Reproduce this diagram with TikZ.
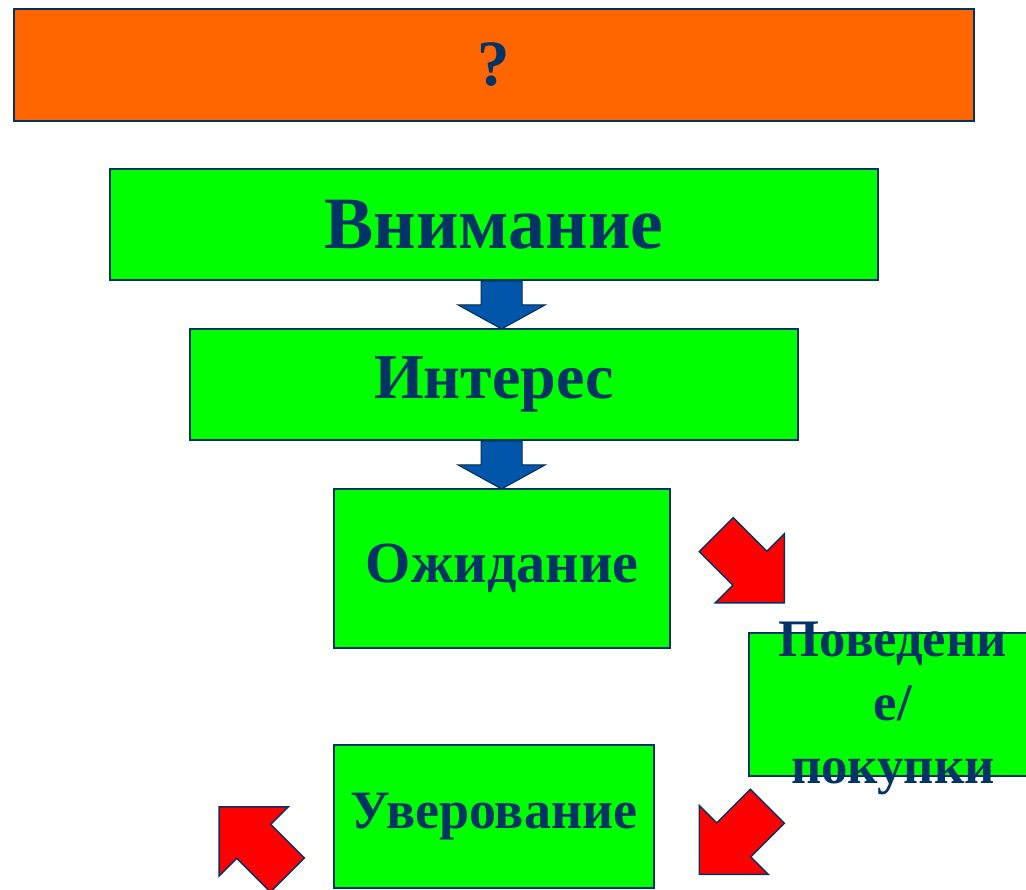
\documentclass[tikz,border=0pt]{standalone}
\usepackage{fontspec}
\setmainfont{Liberation Serif}
\usepackage{xcolor}
\usetikzlibrary{positioning}

\definecolor{navy}{RGB}{0,51,102}
\definecolor{orng}{RGB}{255,102,0}
\definecolor{lgreen}{RGB}{0,255,0}
\definecolor{arrblue}{RGB}{0,86,170}

\tikzset{
  downarrow/.pic={
    \draw[draw=navy!80!black, line width=0.7pt, fill=arrblue]
      (-0.5125,0) -- (0.5125,0) -- (0.5125,-0.6) -- (1.0875,-0.6) -- (0,-1.2)
      -- (-1.0875,-0.6) -- (-0.5125,-0.6) -- cycle;
  },
  redarrow/.pic={
    \draw[draw=navy, line width=1pt, fill=red]
      (0,0) -- (-1.22,1.22) -- (-1.22,0.6) -- (-2.41,0.6) -- (-2.41,-0.6)
      -- (-1.22,-0.6) -- (-1.22,-1.22) -- cycle;
  }
}

\begin{document}
\begin{tikzpicture}[
    blk/.style={draw=navy, line width=1.4pt, fill=lgreen, inner sep=0pt,
                align=center, text=navy},
    top/.style={blk, fill=orng, line width=1.8pt}
  ]
  \useasboundingbox (0,0) rectangle (25.65,-22.25);

  \node[top, minimum width=24cm, minimum height=2.8cm,
        font=\bfseries\fontsize{46}{55}\selectfont] (q) at (12.35,-1.625) {?};
  \node[blk, minimum width=19.2cm, minimum height=2.775cm,
        font=\bfseries\fontsize{52.5}{63}\selectfont] (vnim) at (12.35,-5.6125) {Внимание};
  \node[blk, minimum width=15.2cm, minimum height=2.775cm,
        font=\bfseries\fontsize{45.5}{55}\selectfont] (intr) at (12.35,-9.6125) {Интерес};
  \node[blk, minimum width=8.4cm, minimum height=3.975cm,
        font=\bfseries\fontsize{41.4}{50}\selectfont] (ozh) at (12.55,-14.2125) {Ожидание};
  \node[blk, minimum width=7.2cm, minimum height=3.575cm] (pov) at (22.325,-17.6125) {};
  \node[text=navy, align=center, inner sep=0pt,
        font=\bfseries\fontsize{37.5}{45}\selectfont] (povtxt) at ([yshift=-0.1cm]pov.center)
       {Поведени\\е/\\покупки};
  \node[blk, minimum width=8cm, minimum height=3.575cm,
        font=\bfseries\fontsize{38.4}{46}\selectfont] (uver) at (12.35,-20.4125) {Уверование};

  % blue arrows between the boxes
  \pic (a1) at ([xshift=0.19cm]vnim.south) {downarrow};
  \pic (a2) at ([xshift=0.19cm]intr.south) {downarrow};

  % red arrows
  \pic[rotate=-45] (r1) at (19.61,-15.07) {redarrow};
  \pic[rotate=-135] (r2) at (17.48,-21.86) {redarrow};
  \pic[rotate=135] (r3) at (5.48,-20.17) {redarrow};
\end{tikzpicture}
\end{document}
